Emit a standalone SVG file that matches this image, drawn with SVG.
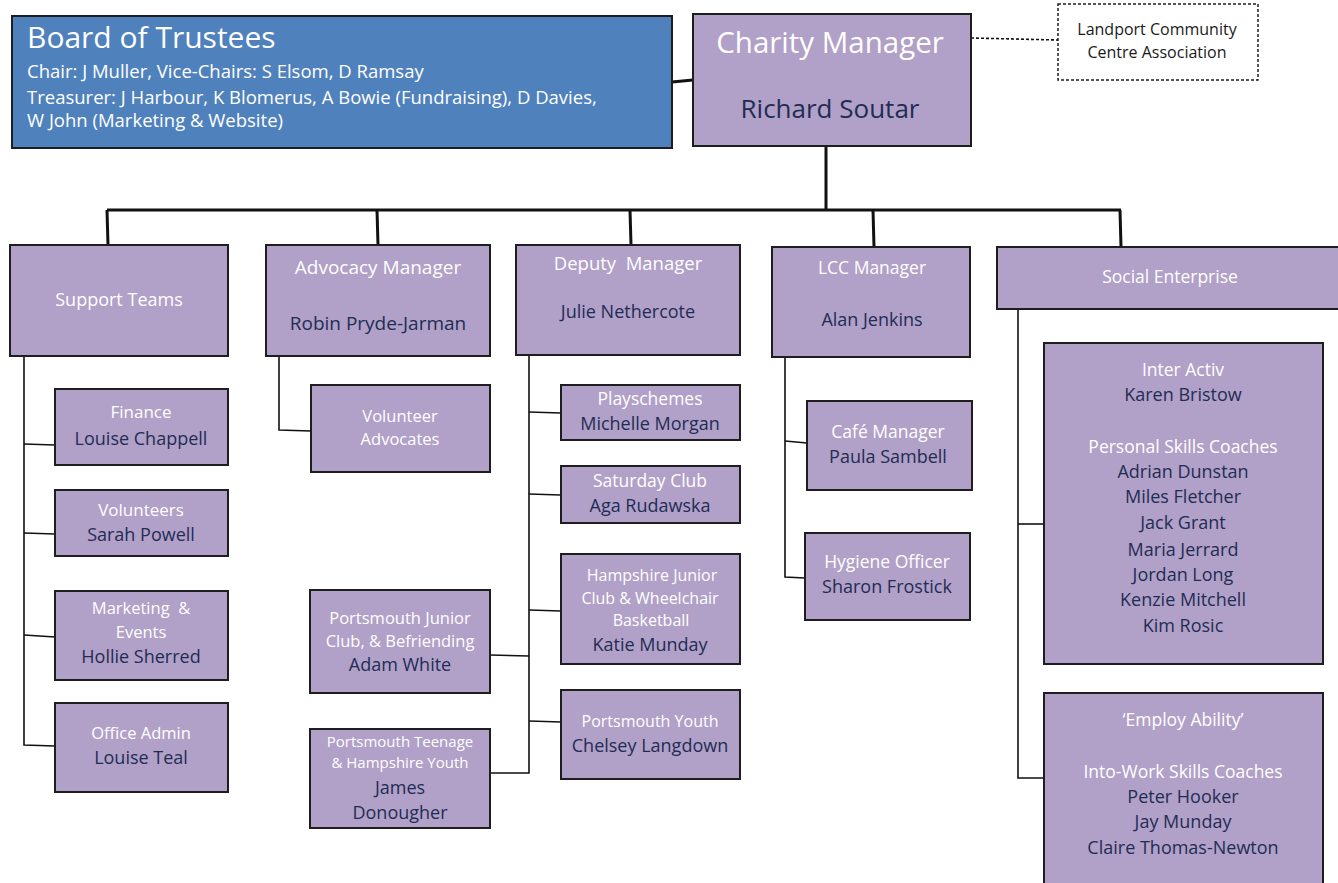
<svg xmlns="http://www.w3.org/2000/svg" width="1338" height="883" viewBox="0 0 1338 883">
<style>
.box{fill:#b1a0c7;stroke:#1e1e1e;stroke-width:2}
.blue{fill:#4f81bd;stroke:#1e1e1e;stroke-width:2}
.dash{fill:#ffffff;stroke:#1e1e1e;stroke-width:1.5;stroke-dasharray:3 2}
text{font-family:"Open Sans",Lato,"Liberation Sans",sans-serif;text-anchor:middle}
.w{fill:#ffffff}
.n{fill:#1f2d55}
.k{fill:#1a1a1a}
.l{text-anchor:start}
.c{fill:none;stroke:#111;stroke-width:1.6}
.m{fill:none;stroke:#111;stroke-width:3}
</style>
<rect width="1338" height="883" fill="#ffffff"/>
<g id="connectors">
<line class="m" x1="672" y1="82" x2="693" y2="80"/>
<line class="c" x1="971" y1="38" x2="1058" y2="40" stroke-dasharray="3 2"/>
<line class="m" x1="826" y1="146" x2="826" y2="210"/>
<line class="m" x1="107" y1="210" x2="1121" y2="210"/>
<line class="m" x1="107" y1="210" x2="108" y2="245"/>
<line class="m" x1="377" y1="210" x2="378" y2="245"/>
<line class="m" x1="630" y1="210" x2="631" y2="245"/>
<line class="m" x1="873" y1="210" x2="874" y2="247"/>
<line class="m" x1="1120" y1="210" x2="1121" y2="247"/>
<polyline class="c" points="24,356 24,745 55,746"/>
<line class="c" x1="24" y1="444" x2="55" y2="445"/>
<line class="c" x1="24" y1="533" x2="55" y2="534"/>
<line class="c" x1="24" y1="635" x2="55" y2="637"/>
<polyline class="c" points="279,356 279,430 311,431"/>
<polyline class="c" points="529,355 529,773 490,773"/>
<line class="c" x1="529" y1="412" x2="561" y2="413"/>
<line class="c" x1="529" y1="494" x2="561" y2="495"/>
<line class="c" x1="529" y1="610" x2="561" y2="611"/>
<line class="c" x1="529" y1="721" x2="561" y2="722"/>
<line class="c" x1="490" y1="655" x2="529" y2="656"/>
<polyline class="c" points="785,357 785,577 805,578"/>
<line class="c" x1="785" y1="441" x2="807" y2="443"/>
<polyline class="c" points="1018,309 1018,778 1044,778"/>
<line class="c" x1="1018" y1="524" x2="1044" y2="524"/>
</g>
<g id="board">
<rect class="blue" x="12" y="16" width="660" height="132"/>
<text class="w l" x="27" y="48" font-size="30">Board of Trustees</text>
<text class="w l" x="27" y="78" font-size="18.5">Chair: J Muller, Vice-Chairs: S Elsom, D Ramsay</text>
<text class="w l" x="27" y="104" font-size="18.5">Treasurer: J Harbour, K Blomerus, A Bowie (Fundraising), D Davies,</text>
<text class="w l" x="27" y="127" font-size="18.5">W John (Marketing &amp; Website)</text>
</g>
<g id="charity-manager">
<rect class="box" x="693" y="14" width="278" height="132"/>
<text class="w" x="830" y="53" font-size="29.5">Charity Manager</text>
<text class="n" x="830" y="118" font-size="26">Richard Soutar</text>
</g>
<g id="lcca">
<rect class="dash" x="1058" y="4" width="200" height="76"/>
<text class="k" x="1157" y="35" font-size="16">Landport Community</text>
<text class="k" x="1157" y="58" font-size="16">Centre Association</text>
</g>
<g id="support-teams">
<rect class="box" x="10" y="245" width="218" height="111"/>
<text class="w" x="119" y="306" font-size="18">Support Teams</text>
</g>
<g id="advocacy-manager">
<rect class="box" x="266" y="245" width="224" height="111"/>
<text class="w" x="378" y="274" font-size="19">Advocacy Manager</text>
<text class="n" x="378" y="330" font-size="19">Robin Pryde-Jarman</text>
</g>
<g id="deputy-manager">
<rect class="box" x="516" y="245" width="224" height="110"/>
<text class="w" x="628" y="270" font-size="18.5" xml:space="preserve">Deputy  Manager</text>
<text class="n" x="628" y="318" font-size="18">Julie Nethercote</text>
</g>
<g id="lcc-manager">
<rect class="box" x="772" y="247" width="198" height="110"/>
<text class="w" x="872" y="274" font-size="17.5">LCC Manager</text>
<text class="n" x="872" y="326" font-size="18">Alan Jenkins</text>
</g>
<g id="social-enterprise">
<rect class="box" x="997" y="247" width="345" height="62"/>
<text class="w" x="1170" y="283" font-size="17.5">Social Enterprise</text>
</g>
<g id="finance">
<rect class="box" x="55" y="389" width="173" height="76"/>
<text class="w" x="141" y="418" font-size="17">Finance</text>
<text class="n" x="141" y="445" font-size="18">Louise Chappell</text>
</g>
<g id="volunteers">
<rect class="box" x="55" y="490" width="173" height="66"/>
<text class="w" x="141" y="516" font-size="17">Volunteers</text>
<text class="n" x="141" y="541" font-size="18">Sarah Powell</text>
</g>
<g id="marketing">
<rect class="box" x="55" y="591" width="173" height="89"/>
<text class="w" x="141" y="614" font-size="16.5" xml:space="preserve">Marketing  &amp;</text>
<text class="w" x="141" y="638" font-size="16.5">Events</text>
<text class="n" x="141" y="663" font-size="18">Hollie Sherred</text>
</g>
<g id="office-admin">
<rect class="box" x="55" y="703" width="173" height="89"/>
<text class="w" x="141" y="739" font-size="16.5">Office Admin</text>
<text class="n" x="141" y="764" font-size="18">Louise Teal</text>
</g>
<g id="volunteer-advocates">
<rect class="box" x="311" y="385" width="179" height="87"/>
<text class="w" x="400" y="422" font-size="16.5">Volunteer</text>
<text class="w" x="400" y="445" font-size="16.5">Advocates</text>
</g>
<g id="pjc">
<rect class="box" x="310" y="590" width="180" height="103"/>
<text class="w" x="400" y="624" font-size="16.5">Portsmouth Junior</text>
<text class="w" x="400" y="647" font-size="16.5">Club, &amp; Befriending</text>
<text class="n" x="400" y="671" font-size="18">Adam White</text>
</g>
<g id="pteen">
<rect class="box" x="310" y="729" width="180" height="99"/>
<text class="w" x="400" y="747" font-size="15">Portsmouth Teenage</text>
<text class="w" x="400" y="768" font-size="15">&amp; Hampshire Youth</text>
<text class="n" x="400" y="794" font-size="18">James</text>
<text class="n" x="400" y="819" font-size="18">Donougher</text>
</g>
<g id="playschemes">
<rect class="box" x="561" y="385" width="179" height="55"/>
<text class="w" x="650" y="405" font-size="17.5">Playschemes</text>
<text class="n" x="650" y="430" font-size="18">Michelle Morgan</text>
</g>
<g id="saturday-club">
<rect class="box" x="561" y="466" width="179" height="57"/>
<text class="w" x="650" y="487" font-size="17.5">Saturday Club</text>
<text class="n" x="650" y="512" font-size="18">Aga Rudawska</text>
</g>
<g id="hampshire-junior">
<rect class="box" x="561" y="554" width="179" height="110"/>
<text class="w" x="652" y="581" font-size="16">Hampshire Junior</text>
<text class="w" x="650" y="604" font-size="16">Club &amp; Wheelchair</text>
<text class="w" x="651" y="626" font-size="16">Basketball</text>
<text class="n" x="650" y="651" font-size="18">Katie Munday</text>
</g>
<g id="portsmouth-youth">
<rect class="box" x="561" y="690" width="179" height="89"/>
<text class="w" x="650" y="727" font-size="16">Portsmouth Youth</text>
<text class="n" x="650" y="752" font-size="18">Chelsey Langdown</text>
</g>
<g id="cafe-manager">
<rect class="box" x="807" y="401" width="165" height="89"/>
<text class="w" x="888" y="438" font-size="17.5">Café Manager</text>
<text class="n" x="888" y="463" font-size="18">Paula Sambell</text>
</g>
<g id="hygiene-officer">
<rect class="box" x="805" y="533" width="165" height="87"/>
<text class="w" x="887" y="568" font-size="17.5">Hygiene Officer</text>
<text class="n" x="887" y="593" font-size="18">Sharon Frostick</text>
</g>
<g id="inter-activ">
<rect class="box" x="1044" y="343" width="279" height="321"/>
<text class="w" x="1183" y="376" font-size="17.5">Inter Activ</text>
<text class="n" x="1183" y="401" font-size="18">Karen Bristow</text>
<text class="w" x="1183" y="453" font-size="17.5">Personal Skills Coaches</text>
<text class="n" x="1183" y="478" font-size="18">Adrian Dunstan</text>
<text class="n" x="1183" y="503" font-size="18">Miles Fletcher</text>
<text class="n" x="1183" y="529" font-size="18">Jack Grant</text>
<text class="n" x="1183" y="556" font-size="18">Maria Jerrard</text>
<text class="n" x="1183" y="581" font-size="18">Jordan Long</text>
<text class="n" x="1183" y="606" font-size="18">Kenzie Mitchell</text>
<text class="n" x="1183" y="632" font-size="18">Kim Rosic</text>
</g>
<g id="employ-ability">
<rect class="box" x="1044" y="693" width="279" height="200"/>
<text class="w" x="1183" y="726" font-size="17.5">‘Employ Ability’</text>
<text class="w" x="1183" y="778" font-size="17.5">Into-Work Skills Coaches</text>
<text class="n" x="1183" y="803" font-size="18">Peter Hooker</text>
<text class="n" x="1183" y="828" font-size="18">Jay Munday</text>
<text class="n" x="1183" y="854" font-size="18">Claire Thomas-Newton</text>
</g>
</svg>
